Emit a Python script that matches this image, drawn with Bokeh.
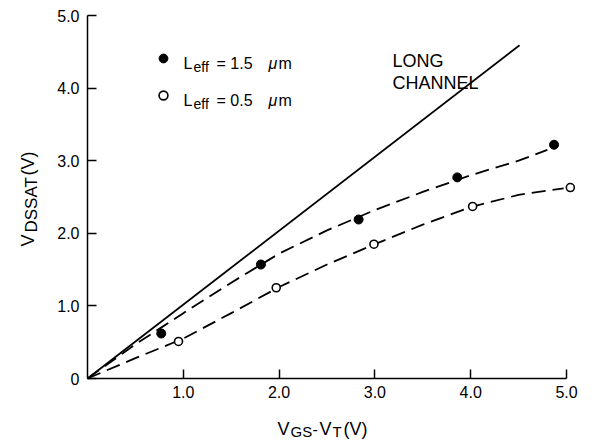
import math
from bokeh.plotting import figure
from bokeh.models import Range1d, Label, Legend, LegendItem, FixedTicker, PrintfTickFormatter
from bokeh.embed import file_html
from bokeh.resources import INLINE

# ---- data ----
long_x = [0.0, 4.51]
long_y = [0.0, 4.59]

x_fill = [0.77, 1.81, 2.83, 3.86, 4.87]
y_fill = [0.62, 1.57, 2.19, 2.77, 3.22]
x_open = [0.95, 1.97, 2.99, 4.02, 5.04]
y_open = [0.51, 1.25, 1.85, 2.37, 2.63]

curve_fill_x = [0.0, 0.5, 1.0, 1.5, 2.0, 2.5, 3.0, 3.5, 4.0, 4.5, 4.8]
curve_fill_y = [0.0, 0.47, 0.9, 1.32, 1.72, 2.04, 2.32, 2.57, 2.8, 3.0, 3.15]
curve_open_x = [0.0, 0.5, 1.0, 1.5, 2.0, 2.5, 3.0, 3.5, 4.0, 4.5, 4.97]
curve_open_y = [0.0, 0.28, 0.55, 0.9, 1.26, 1.57, 1.85, 2.12, 2.36, 2.53, 2.62]

x_ticks = [1, 2, 3, 4, 5]
y_ticks = [0, 1, 2, 3, 4, 5]

FONT = "Liberation Sans"
W, H = 597, 441
X0, X5 = 87, 566      # page px of x = 0 and x = 5
Y0, Y5 = 378, 15      # page px of y = 0 and y = 5
sx = (X5 - X0) / 5.0
sy = (Y0 - Y5) / 5.0

p = figure(width=W, height=H,
           x_range=Range1d(-X0 / sx, (W - X0) / sx),
           y_range=Range1d(-(H - Y0) / sy, Y0 / sy),
           output_backend="svg", toolbar_location=None,
           min_border=0, min_border_left=0, min_border_right=0,
           min_border_top=0, min_border_bottom=0)
p.outline_line_color = None
p.xgrid.visible = False
p.ygrid.visible = False
p.background_fill_color = "white"
p.border_fill_color = "white"

for ax, ticks in ((p.xaxis[0], x_ticks), (p.yaxis[0], y_ticks)):
    ax.fixed_location = 0
    ax.ticker = FixedTicker(ticks=ticks)
    ax.bounds = (0, 5)
    ax.formatter = PrintfTickFormatter(format="%.1f")
    ax.major_tick_in = 9
    ax.major_tick_out = 0
    ax.minor_tick_line_color = None
    ax.axis_line_width = 1.5
    ax.major_tick_line_width = 1.5
    ax.axis_line_color = "black"
    ax.major_tick_line_color = "black"
    ax.major_label_text_font = FONT
    ax.major_label_text_font_size = "16px"
    ax.major_label_text_color = "black"
    ax.axis_label = None
p.yaxis[0].major_label_overrides = {0: "0"}
p.yaxis[0].major_label_standoff = 8
p.xaxis[0].major_label_standoff = 7

p.line(long_x, long_y, line_color="black", line_width=1.8)
p.line(curve_fill_x, curve_fill_y, line_color="black", line_width=1.8, line_dash="14 7")
p.line(curve_open_x, curve_open_y, line_color="black", line_width=1.8, line_dash="14 7")
r_fill = p.scatter(x_fill, y_fill, marker="circle", size=9, fill_color="black", line_color="black")
r_open = p.scatter(x_open, y_open, marker="circle", size=8, fill_color="white",
                   line_color="black", line_width=1.6)

GL = 22
legend = Legend(items=[LegendItem(label=" ", renderers=[r_fill]),
                       LegendItem(label=" ", renderers=[r_open])],
                location=(163 - GL // 2, H - (95 + GL // 2)), orientation="vertical",
                glyph_width=GL, glyph_height=GL, label_width=0, label_height=GL,
                label_standoff=0, spacing=37 - GL, padding=0, margin=0,
                border_line_color=None, background_fill_alpha=0,
                label_text_font_size="1px")
p.add_layout(legend)


def lab(text, px, py, size, angle=0.0, style="normal"):
    p.add_layout(Label(x=px, y=H - py, x_units="screen", y_units="screen",
                       text=text, text_font=FONT, text_font_size=f"{size}px",
                       text_font_style=style, text_color="black",
                       text_align="left", text_baseline="alphabetic", angle=angle))


# legend texts
for base, val in ((63, "= 1.5"), (100, "= 0.5")):
    lab("L", 183, base, 16)
    lab("eff", 193, base + 3, 14)
    lab(val, 216, base, 16)
    lab("μ", 268, base, 16, style="italic")
    lab("m", 278, base, 16)

# annotation
lab("LONG", 392, 60, 18)
lab("CHANNEL", 392, 82, 18)

# x axis title
lab("V", 277, 428, 18)
lab("GS", 290, 431, 15)
lab("-", 312, 428, 16)
lab("V", 319, 428, 18)
lab("T", 332, 431, 15)
lab("(V)", 343, 428, 18)

# y axis title (rotated)
A = math.pi / 2
lab("V", 27, 246, 18, angle=A)
lab("DSSAT", 31, 232, 17, angle=A)
lab("(V)", 27, 175, 18, angle=A)

open("out.html", "w").write(file_html(p, INLINE))
